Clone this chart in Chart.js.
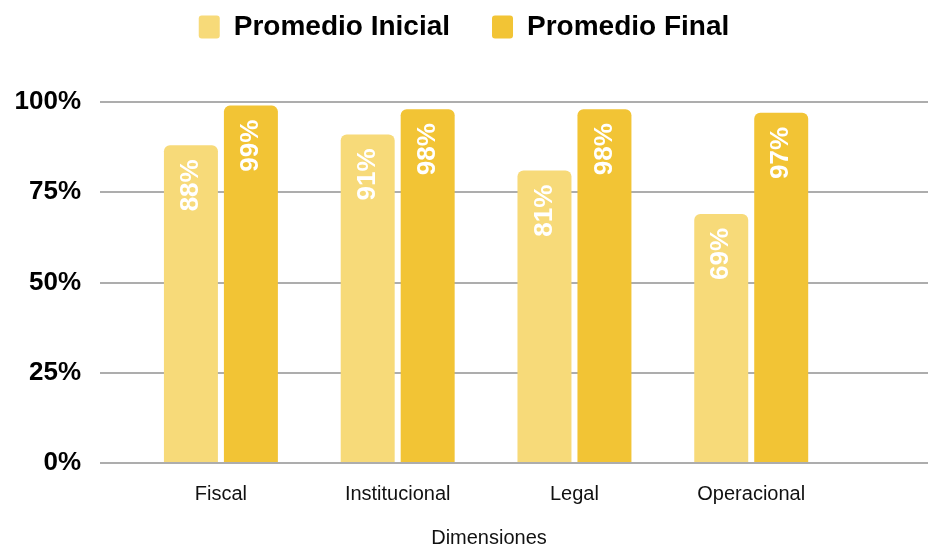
<!DOCTYPE html>
<html>
<head>
<meta charset="utf-8">
<script src="https://cdn.jsdelivr.net/npm/chart.js@4"></script>
<style>
  body { margin: 0; background: #fff; }
  #wrap { width: 928px; height: 546px; }
</style>
</head>
<body>
<div id="wrap"><canvas id="grafico"></canvas></div>
<script>
// datos
const categorias = ['Fiscal', 'Institucional', 'Legal', 'Operacional'];
const promedioInicial = [88, 91, 81, 69];
const promedioFinal = [99, 98, 98, 97];
const ticksY = [0, 25, 50, 75, 100];
const tituloX = 'Dimensiones';

const colorInicial = '#F7DA79';
const colorFinal = '#F2C435';
const fuente = "'Liberation Sans', Arial, sans-serif";

// etiquetas blancas giradas dentro de cada barra + titulo del eje x
const etiquetasBarras = {
  id: 'etiquetasBarras',
  afterDatasetsDraw(chart) {
    const ctx = chart.ctx;
    chart.data.datasets.forEach((ds, i) => {
      chart.getDatasetMeta(i).data.forEach((bar, j) => {
        ctx.save();
        ctx.translate(bar.x, bar.y + 14);
        ctx.rotate(-Math.PI / 2);
        ctx.font = 'bold 26px ' + fuente;
        ctx.fillStyle = '#fff';
        ctx.textAlign = 'right';
        ctx.textBaseline = 'middle';
        ctx.fillText(ds.data[j].y + '%', 0, 0);
        ctx.restore();
      });
    });
  },
  afterDraw(chart) {
    const ctx = chart.ctx;
    ctx.save();
    ctx.font = '20px ' + fuente;
    ctx.fillStyle = '#111';
    ctx.textAlign = 'center';
    ctx.textBaseline = 'middle';
    ctx.fillText(tituloX, 489, 538);
    ctx.restore();
  }
};

const ctx = document.getElementById('grafico').getContext('2d');
new Chart(ctx, {
  type: 'bar',
  data: {
    datasets: [{
      label: 'Promedio Inicial',
      data: promedioInicial.map((v, i) => ({ x: i, y: v })),
      backgroundColor: colorInicial,
      borderRadius: 6,
      borderSkipped: 'start'
    }, {
      label: 'Promedio Final',
      data: promedioFinal.map((v, i) => ({ x: i, y: v })),
      backgroundColor: colorFinal,
      borderRadius: 6,
      borderSkipped: 'start'
    }]
  },
  options: {
    responsive: true,
    maintainAspectRatio: false,
    animation: false,
    categoryPercentage: 0.6786,
    barPercentage: 0.9,
    layout: { padding: { top: -29, left: 0, right: 0, bottom: 0 } },
    plugins: {
      legend: {
        position: 'top',
        labels: {
          color: '#000',
          font: { family: fuente, size: 28, weight: 'bold' },
          boxWidth: 21,
          boxHeight: 23,
          padding: 42,
          generateLabels(chart) {
            return chart.data.datasets.map((ds, i) => ({
              text: ds.label,
              fillStyle: ds.backgroundColor,
              strokeStyle: ds.backgroundColor,
              lineWidth: 0,
              borderRadius: 3,
              datasetIndex: i
            }));
          }
        }
      },
      tooltip: { enabled: false }
    },
    scales: {
      x: {
        type: 'linear',
        offset: false,
        min: -0.684,
        max: 4,
        grid: { display: false, drawTicks: false },
        border: { display: false },
        afterBuildTicks(scale) {
          scale.ticks = categorias.map((c, i) => ({ value: i }));
        },
        afterFit(scale) {
          scale.height = 83;
        },
        ticks: {
          padding: 19,
          maxRotation: 0,
          color: '#111',
          font: { family: fuente, size: 20 },
          callback: (v) => categorias[v] ?? ''
        }
      },
      y: {
        min: 0,
        max: 114.13,
        grid: { color: '#adadad', lineWidth: 2, drawTicks: false },
        border: { display: false },
        afterBuildTicks(scale) {
          scale.ticks = ticksY.map(v => ({ value: v }));
        },
        afterFit(scale) {
          scale.width = 100;
        },
        ticks: {
          padding: 19,
          color: '#000',
          font: { family: fuente, size: 26, weight: 'bold' },
          callback: (v) => v + '%'
        }
      }
    }
  },
  plugins: [etiquetasBarras]
});
</script>
</body>
</html>
